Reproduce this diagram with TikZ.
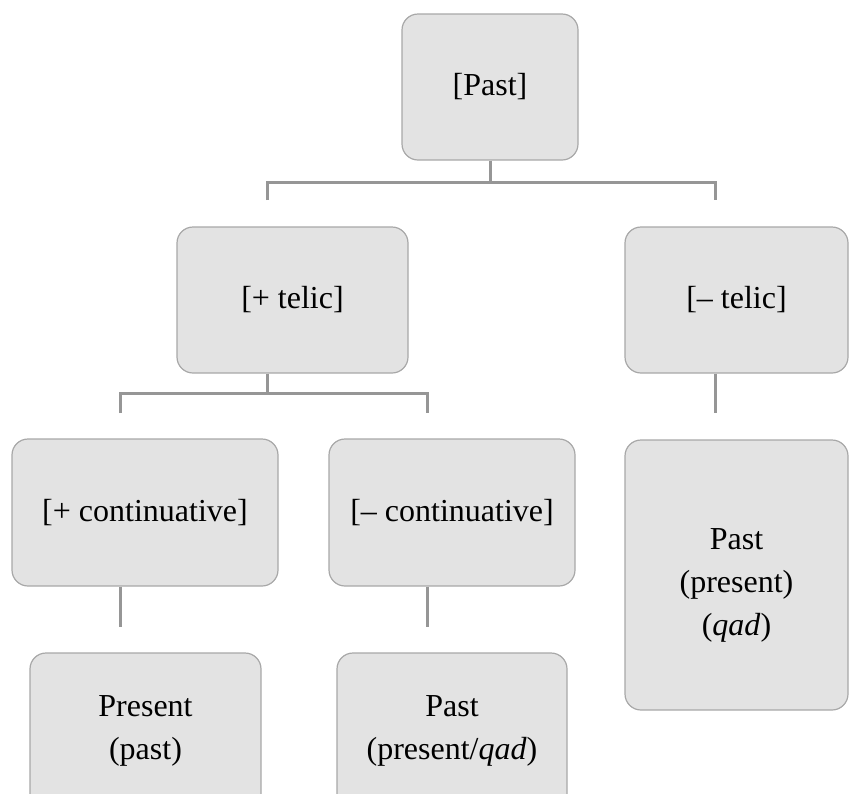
\documentclass[tikz,border=0pt]{standalone}
\usepackage{fontspec}
\setmainfont{Liberation Serif}
\usepackage{tikz}
\usetikzlibrary{positioning}
\definecolor{boxfill}{HTML}{E3E3E3}
\definecolor{boxline}{HTML}{A8A8A8}
\definecolor{linkgray}{HTML}{969696}
\tikzset{
    x=1pt, y=-1pt, % one unit is one pixel of the layout
    box/.style={draw=boxline, line width=1.2pt, fill=boxfill, rounded corners=16pt,
        inner sep=0pt, align=center, font=\fontsize{32}{43}\selectfont}, % the grey cards
    link/.style={draw=linkgray, line width=3pt}, % the tree lines
}
\begin{document}
\begin{tikzpicture}
    \useasboundingbox (0,0) rectangle (849,793);
    \clip (0,0) rectangle (849,793);
    \node[box, minimum width=176pt, minimum height=146pt] (past) at (490,87) {[Past]};
    \node[box, minimum width=231pt, minimum height=146pt] (ptel) at (292.5,300) {[+ telic]};
    \node[box, minimum width=223pt, minimum height=146pt] (mtel) at (736.5,300) {[– telic]};
    \node[box, minimum width=266pt, minimum height=147pt] (pcont) at (145,512.5) {[+ continuative]};
    \node[box, minimum width=246pt, minimum height=147pt] (mcont) at (452,512.5) {[– continuative]};
    \node[box, minimum width=231pt, minimum height=156pt] (pres) at (145.5,731) {Present\\(past)};
    \node[box, minimum width=230pt, minimum height=156pt] (pastb) at (452,731) {Past\\(present/\textit{qad})};
    \node[box, minimum width=223pt, minimum height=270pt] (pastc) at (736.5,575) {\rule{0pt}{42pt}Past\\(present)\\(\textit{qad})};
    % first level
    \coordinate (b1) at (267,182);
    \coordinate (b2) at (715,182);
    \coordinate (e1) at (267,200);
    \coordinate (e2) at (715,200);
    \draw[link] (past.south) -- (past.south |- b1);
    \draw[link] (e1) -- (b1) -- (b2) -- (e2);
    % second level
    \coordinate (b3) at (120,393);
    \coordinate (b4) at (427,393);
    \coordinate (e3) at (120,413);
    \coordinate (e4) at (427,413);
    \draw[link] (e1 |- ptel.south) -- (e1 |- b3);
    \draw[link] (e3) -- (b3) -- (b4) -- (e4);
    \draw[link] (e2 |- mtel.south) -- (e2 |- e3);
    % third level
    \coordinate (e5) at (120,627);
    \coordinate (e6) at (427,627);
    \draw[link] (e5 |- pcont.south) -- (e5);
    \draw[link] (e6 |- mcont.south) -- (e6);
\end{tikzpicture}
\end{document}
